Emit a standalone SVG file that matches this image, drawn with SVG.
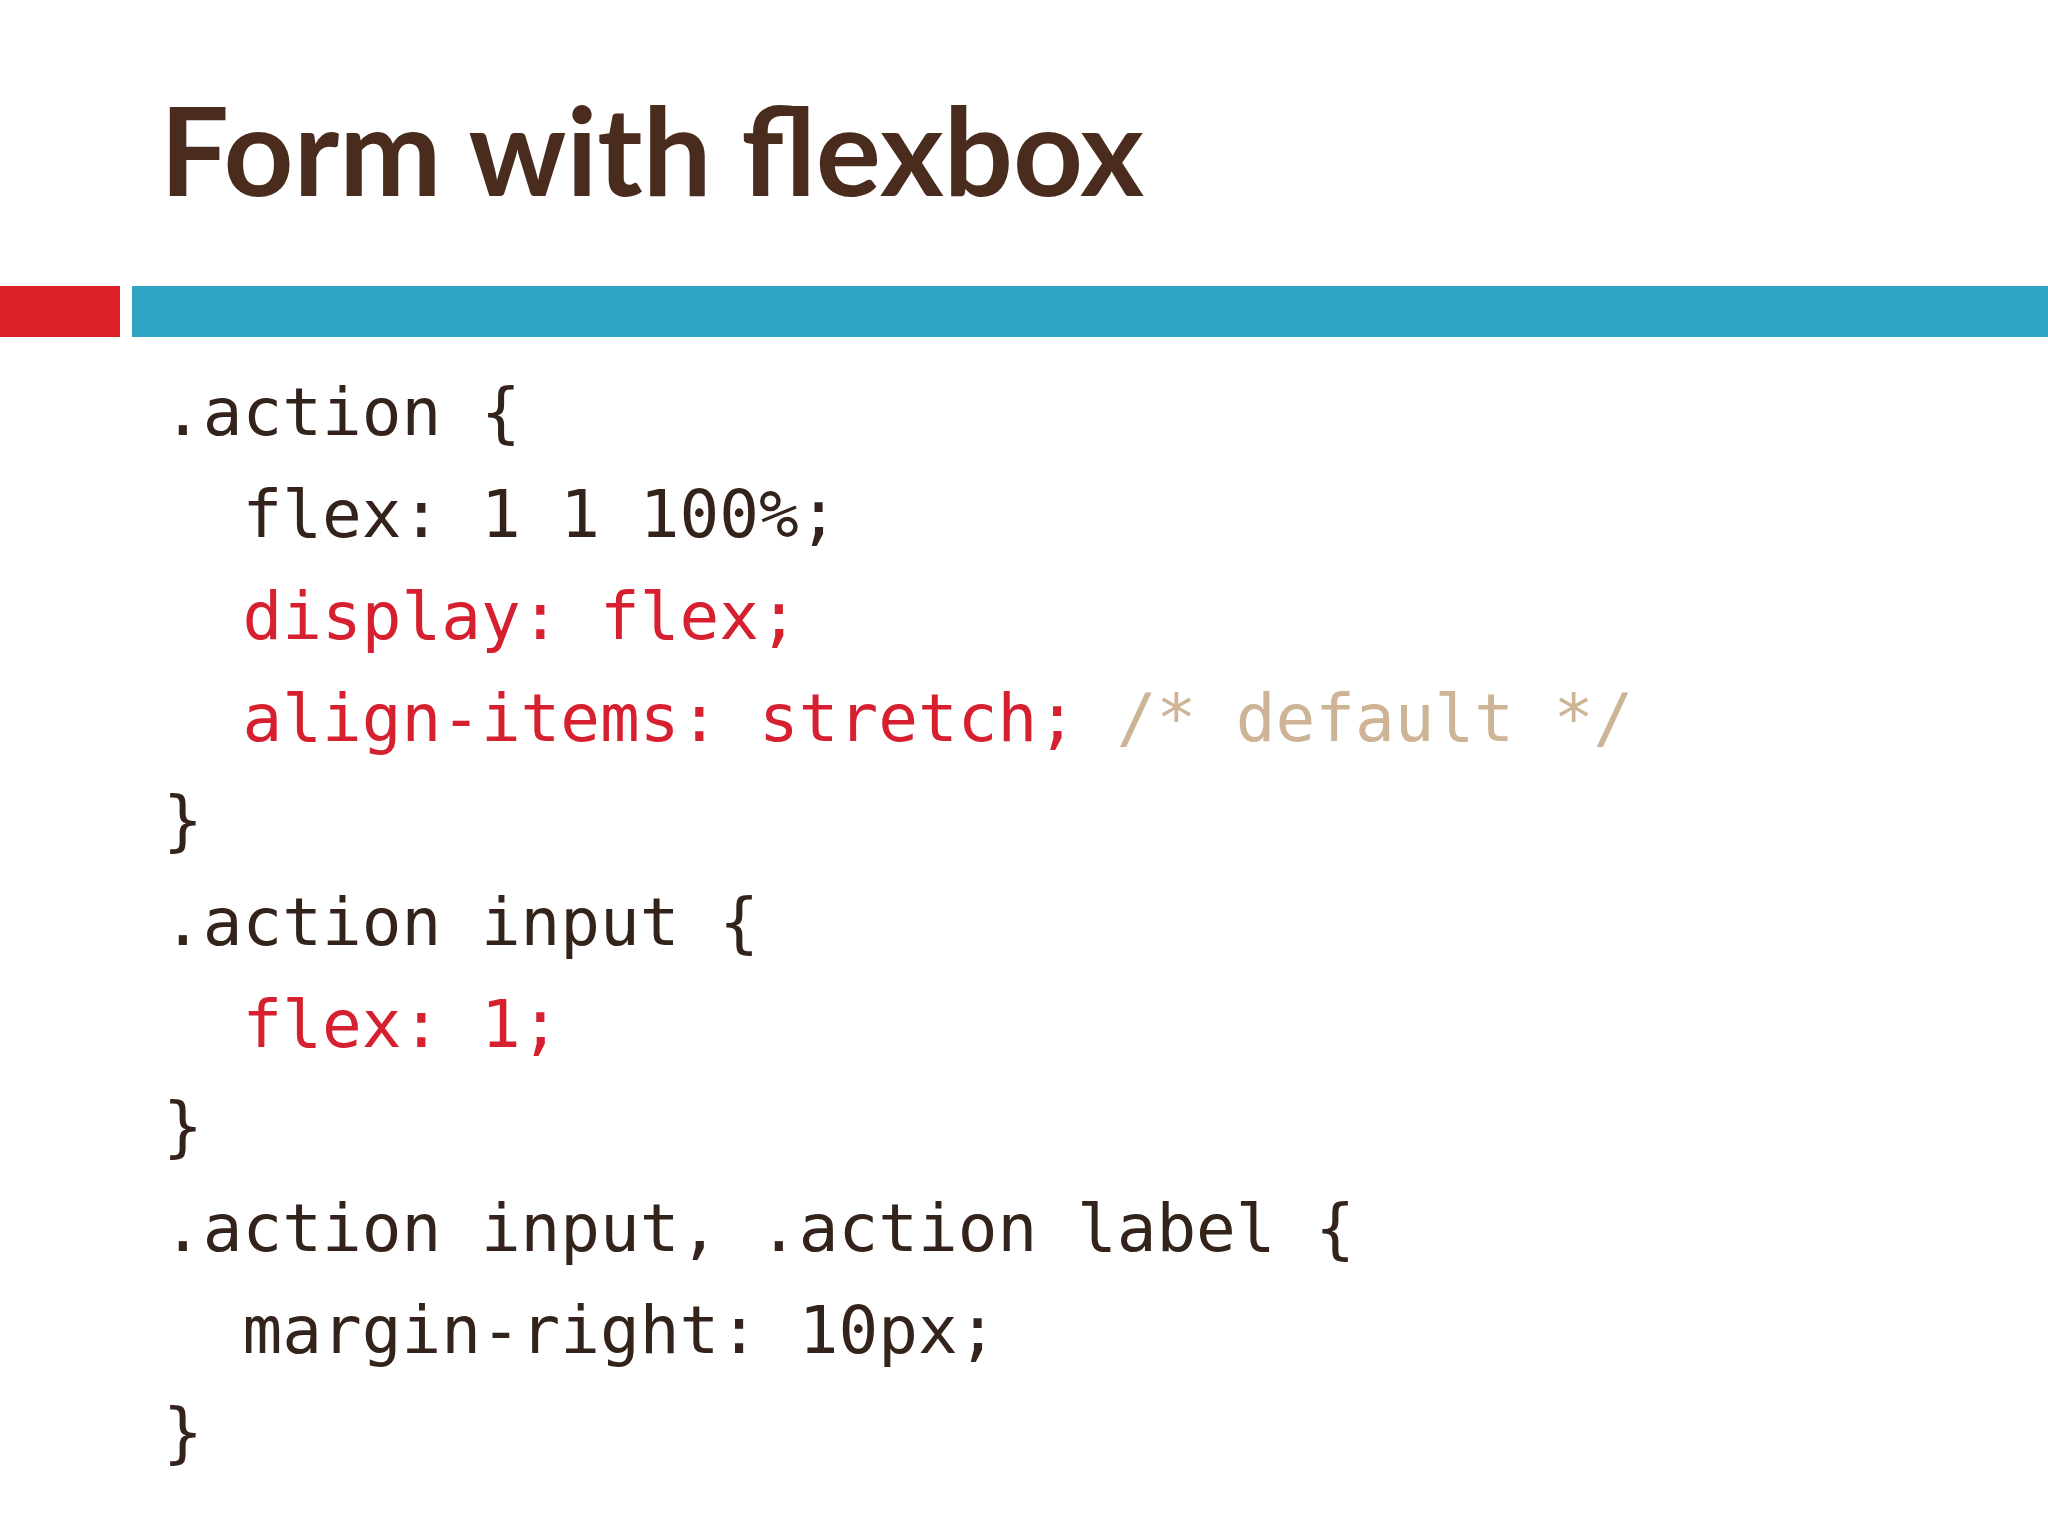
<svg xmlns="http://www.w3.org/2000/svg" width="2048" height="1536" viewBox="0 0 2048 1536">
<style>
.t{font-family:"Lato","Open Sans",sans-serif;font-weight:bold;font-size:122px;fill:#4a2c1e}
.c{font-family:"DejaVu Sans Mono","Liberation Mono",monospace;font-size:66px;fill:#33231a;white-space:pre}
.r{fill:#d7202f}
.m{fill:#cdb497}
</style>
<rect width="2048" height="1536" fill="#fff"/>
<g id="title"><text class="t" x="160" y="196">Form with flexbox</text></g>
<g id="bars">
<rect x="0" y="286" width="120" height="51" fill="#dc2028"/>
<rect x="132" y="286" width="1916" height="51" fill="#2ea3c3"/>
</g>
<g id="code">
<text class="c" x="163" y="435">.action {</text>
<text class="c" x="163" y="537">  flex: 1 1 100%;</text>
<text class="c" x="163" y="639"><tspan class="r">  display: flex;</tspan></text>
<text class="c" x="163" y="741"><tspan class="r">  align-items: stretch;</tspan><tspan class="m"> /* default */</tspan></text>
<text class="c" x="163" y="843">}</text>
<text class="c" x="163" y="945">.action input {</text>
<text class="c" x="163" y="1047"><tspan class="r">  flex: 1;</tspan></text>
<text class="c" x="163" y="1149">}</text>
<text class="c" x="163" y="1251">.action input, .action label {</text>
<text class="c" x="163" y="1353">  margin-right: 10px;</text>
<text class="c" x="163" y="1455">}</text>
</g>
</svg>
